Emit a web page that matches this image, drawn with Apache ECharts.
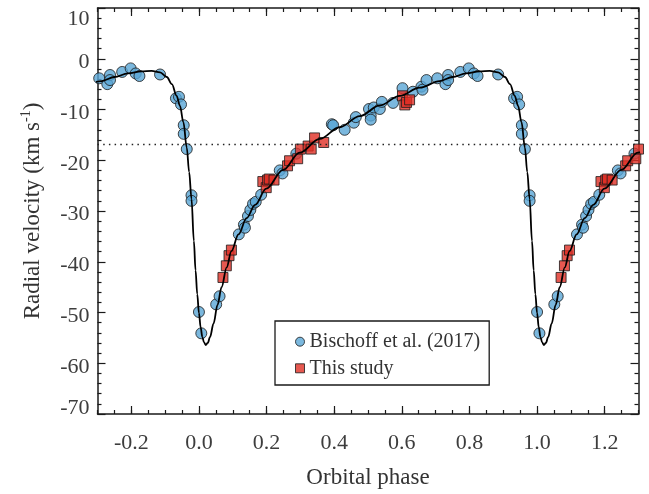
<!DOCTYPE html>
<html>
<head>
<meta charset="utf-8">
<script src="https://cdn.jsdelivr.net/npm/echarts@6/dist/echarts.min.js"></script>
<style>
  html, body { margin: 0; padding: 0; background: #fff; }
  #chart { width: 649px; height: 494px; }
</style>
</head>
<body>
<div id="chart"></div>
<script>
// Phase-folded radial velocities for one orbital cycle (phase 0..1).
const bischoffPhase = [0.000, 0.007, 0.051, 0.061, 0.118, 0.133, 0.136, 0.145, 0.152, 0.160,
  0.168, 0.184, 0.239, 0.247, 0.288, 0.393, 0.397, 0.431, 0.458, 0.464, 0.503, 0.508, 0.508,
  0.517, 0.535, 0.541, 0.574, 0.602, 0.633, 0.658, 0.661, 0.673, 0.705, 0.729, 0.737, 0.737,
  0.773, 0.798, 0.813, 0.824, 0.885, 0.932, 0.941, 0.947, 0.955, 0.955, 0.964, 0.978, 0.978];
const bischoffRV = [-49.9, -54.1, -48.4, -46.8, -34.6, -32.7, -33.3, -31.0, -29.8, -28.6,
  -28.2, -26.8, -22.0, -22.6, -18.7, -12.9, -13.1, -14.0, -12.6, -11.5, -9.9, -11.2, -12.0,
  -9.6, -9.9, -8.5, -8.7, -5.8, -6.5, -5.5, -6.1, -4.2, -3.85, -5.0, -3.2, -4.2,
  -2.6, -1.9, -2.9, -3.4, -3.1, -7.8, -7.5, -9.0, -13.1, -14.8, -17.8, -26.9, -28.0];

const studyPhase = [0.071, 0.081, 0.089, 0.096, 0.189, 0.199, 0.203, 0.208, 0.222, 0.262,
  0.268, 0.292, 0.300, 0.323, 0.332, 0.342, 0.369, 0.602, 0.609, 0.614, 0.623];
const studyRV = [-43.1, -40.8, -38.8, -37.7, -24.2, -25.4, -23.9, -23.7, -23.9, -21.1,
  -20.1, -19.7, -17.8, -17.2, -17.8, -15.6, -16.5, -7.3, -9.1, -8.6, -8.1];

// Orbital solution sampled over one cycle
const modelPhase = [0.000, 0.005, 0.010, 0.015, 0.020, 0.026, 0.033, 0.043, 0.055, 0.067,
  0.082, 0.096, 0.117, 0.141, 0.166, 0.199, 0.249, 0.298, 0.357, 0.416, 0.476, 0.535,
  0.594, 0.653, 0.712, 0.750, 0.790, 0.830, 0.860, 0.885, 0.905, 0.920, 0.934, 0.944,
  0.954, 0.964, 0.971, 0.978, 0.985, 0.990, 0.995];
const modelRV = [-50.1, -52.9, -54.8, -55.9, -56.4, -56.0, -54.8, -52.2, -48.5, -45.0,
  -41.1, -37.9, -34.6, -31.4, -28.8, -25.6, -21.9, -18.5, -15.8, -13.5, -11.3, -9.2,
  -7.3, -5.7, -4.4, -3.6, -2.9, -2.5, -2.4, -2.7, -3.6, -5.0, -7.3, -9.3,
  -12.5, -17.5, -22.3, -27.6, -35.9, -41.7, -46.4];

const systemicRV = -16.9;

const phaseMin = -0.3, phaseMax = 1.3;
const phaseMajorTicks = [-0.2, 0.0, 0.2, 0.4, 0.6, 0.8, 1.0, 1.2];
const phaseMinorStep = 0.05;
const rvMin = -70, rvMax = 10, rvStep = 10;

// Repeat one cycle at phase-1, phase and phase+1 inside the visible window.
function unfold(phases, values, pad) {
  const out = [];
  for (const k of [-1, 0, 1]) {
    phases.forEach((p, i) => {
      const x = p + k;
      if (x >= phaseMin - pad && x <= phaseMax + pad) out.push([x, values[i]]);
    });
  }
  return out.sort((a, b) => a[0] - b[0]);
}

const FONT = 'Liberation Serif';
const INK = '#1a1a1a';
const LABEL = '#3d3d3d';

const chart = echarts.init(document.getElementById('chart'), null, { renderer: 'canvas' });

const xBase = { type: 'value', min: phaseMin, max: phaseMax, gridIndex: 0, splitLine: { show: false } };
const tickStyle = { color: INK, width: 1.2 };

const option = {
  animation: false,
  backgroundColor: '#fff',
  grid: { left: 97.5, right: 10.5, top: 8, bottom: 76, containLabel: false },
  xAxis: [
    Object.assign({}, xBase, {
      position: 'bottom',
      name: 'Orbital phase',
      nameLocation: 'middle',
      nameGap: 52,
      nameTextStyle: { fontFamily: FONT, fontSize: 23, color: '#333' },
      axisLine: { show: true, onZero: false, lineStyle: { color: INK, width: 1.5 } },
      axisTick: { show: true, inside: true, length: 8, lineStyle: tickStyle, customValues: phaseMajorTicks },
      axisLabel: {
        show: true, margin: 18, fontFamily: FONT, fontSize: 22, color: LABEL,
        customValues: phaseMajorTicks,
        formatter: v => v.toFixed(1)
      }
    }),
    Object.assign({}, xBase, {
      position: 'bottom',
      interval: phaseMinorStep,
      axisLine: { show: false, onZero: false },
      axisTick: { show: true, inside: true, length: 4, lineStyle: tickStyle },
      axisLabel: { show: false }
    }),
    Object.assign({}, xBase, {
      position: 'top',
      axisLine: { show: true, onZero: false, lineStyle: { color: INK, width: 1.5 } },
      axisTick: { show: true, inside: true, length: 8, lineStyle: tickStyle, customValues: phaseMajorTicks },
      axisLabel: { show: false, customValues: phaseMajorTicks }
    }),
    Object.assign({}, xBase, {
      position: 'top',
      interval: phaseMinorStep,
      axisLine: { show: false, onZero: false },
      axisTick: { show: true, inside: true, length: 4, lineStyle: tickStyle },
      axisLabel: { show: false }
    })
  ],
  yAxis: [
    {
      type: 'value', min: rvMin, max: rvMax, interval: rvStep, position: 'left',
      name: 'Radial velocity (km s{sup|-1})',
      nameLocation: 'middle',
      nameGap: 52,
      nameRotate: 90,
      nameTextStyle: {
        fontFamily: FONT, fontSize: 23, color: '#333',
        rich: { sup: { fontFamily: FONT, fontSize: 14, color: '#333', padding: [0, 0, 12, 0] } }
      },
      splitLine: { show: false },
      axisLine: { show: true, onZero: false, lineStyle: { color: INK, width: 1.5 } },
      axisTick: { show: true, inside: true, length: 8, lineStyle: tickStyle },
      minorTick: { show: true, splitNumber: 5, length: 4, lineStyle: tickStyle },
      axisLabel: {
        show: true, margin: 8, fontFamily: FONT, fontSize: 22, color: LABEL,
        formatter: v => (v === rvMax ? '{hi|' + v + '}' : v === rvMin ? '{lo|' + v + '}' : '{n|' + v + '}'),
        rich: {
          n: { fontFamily: FONT, fontSize: 22, color: LABEL, padding: [7, 0, 0, 0] },
          hi: { fontFamily: FONT, fontSize: 22, color: LABEL, padding: [23, 0, 0, 0] },
          lo: { fontFamily: FONT, fontSize: 22, color: LABEL, padding: [0, 0, 12, 0] }
        }
      }
    },
    {
      type: 'value', min: rvMin, max: rvMax, interval: rvStep, position: 'right',
      splitLine: { show: false },
      axisLine: { show: true, onZero: false, lineStyle: { color: INK, width: 1.5 } },
      axisTick: { show: true, inside: true, length: 8, lineStyle: tickStyle },
      minorTick: { show: true, splitNumber: 5, length: 4, lineStyle: tickStyle },
      axisLabel: { show: false }
    }
  ],
  legend: {
    data: [
      { name: 'Bischoff et al. (2017)', icon: 'circle', itemStyle: { borderWidth: 1 } },
      { name: 'This study', icon: 'rect', itemStyle: { borderWidth: 1 } }
    ],
    orient: 'vertical',
    left: 275, top: 321,
    itemWidth: 9, itemHeight: 9,
    itemGap: 6.6,
    itemTextGap: 14,
    padding: [10.7, 9, 6.7, 20],
    borderColor: INK, borderWidth: 1.3,
    backgroundColor: '#fff',
    textStyle: { fontFamily: FONT, fontSize: 20, lineHeight: 20, color: '#333' }
  },
  series: [
    {
      name: 'Bischoff et al. (2017)',
      type: 'scatter',
      xAxisIndex: 0, yAxisIndex: 0,
      symbol: 'circle', symbolSize: 11,
      clip: true,
      itemStyle: { color: '#5aa6d6', borderColor: INK, borderWidth: 1 },
      data: unfold(bischoffPhase, bischoffRV, 0.02)
    },
    {
      name: 'This study',
      type: 'scatter',
      xAxisIndex: 0, yAxisIndex: 0,
      symbol: 'rect', symbolSize: 10,
      clip: true,
      itemStyle: { color: '#e02e24', borderColor: INK, borderWidth: 1 },
      data: unfold(studyPhase, studyRV, 0.02)
    },
    {
      name: 'Orbit',
      type: 'line',
      xAxisIndex: 0, yAxisIndex: 0,
      showSymbol: false, symbol: 'none',
      smooth: 0.35, smoothMonotone: 'x',
      clip: true,
      lineStyle: { color: '#000', width: 1.8 },
      data: unfold(modelPhase, modelRV, 0.06)
    },
    {
      name: 'Systemic velocity',
      type: 'line',
      xAxisIndex: 0, yAxisIndex: 0,
      showSymbol: false, symbol: 'none',
      clip: true,
      lineStyle: { color: '#222', width: 1.3, type: [1.5, 4.2] },
      data: [[phaseMin, systemicRV], [phaseMax, systemicRV]]
    }
  ]
};

chart.setOption(option);
</script>
</body>
</html>
